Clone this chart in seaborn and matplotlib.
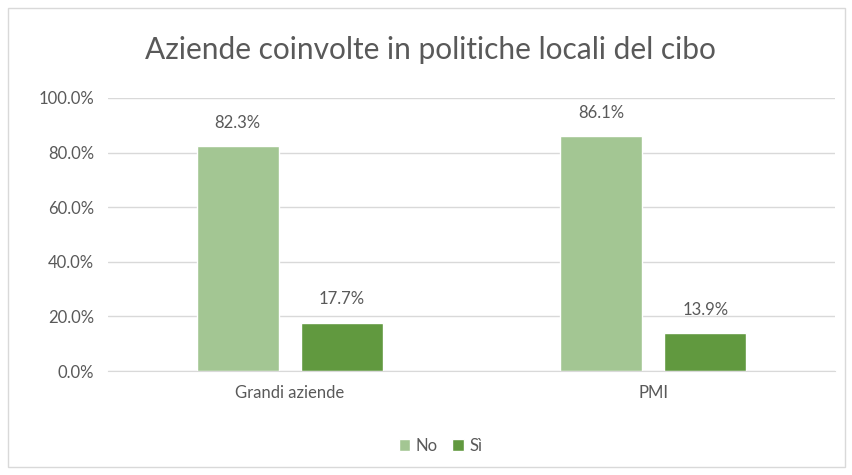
import pandas as pd
import seaborn as sns
import matplotlib.pyplot as plt
from matplotlib.patches import Rectangle
from matplotlib.ticker import PercentFormatter

categories = ['Grandi aziende', 'PMI']
risposte = ['No', 'Sì']
valori_no = [0.823, 0.861]
valori_si = [0.177, 0.139]

df = pd.DataFrame({
    'categoria': categories * 2,
    'risposta': ['No'] * 2 + ['Sì'] * 2,
    'valore': valori_no + valori_si,
})

sns.set_style('white')
plt.rcParams['font.family'] = ['Lato', 'DejaVu Sans']

fig = plt.figure(figsize=(8.53, 4.75), dpi=100)
ax = fig.add_axes([0.1266, 0.2189, 0.8524, 0.5748])

colori = {'No': '#A3C693', 'Sì': '#61993F'}
sns.barplot(data=df, x='categoria', y='valore', hue='risposta',
            hue_order=risposte, palette=colori, saturation=1,
            width=0.572, gap=0.21, ax=ax, legend=True)

ax.set_ylim(0, 1)
ax.set_yticks([0, 0.2, 0.4, 0.6, 0.8, 1.0])
ax.yaxis.set_major_formatter(PercentFormatter(1.0, decimals=1))
ax.grid(axis='y', color='#D9D9D9', linewidth=1)
ax.set_axisbelow(True)
for s in ['top', 'right', 'left']:
    ax.spines[s].set_visible(False)
ax.spines['bottom'].set_color('#D9D9D9')
ax.tick_params(axis='both', length=0, labelsize=12, colors='#595959', pad=10)
ax.set_xlabel('')
ax.set_ylabel('')

for cont in ax.containers:
    ax.bar_label(cont, labels=[f'{v * 100:.1f}%' for v in cont.datavalues],
                 padding=11, fontsize=12, color='#595959')

ax.legend(loc='upper center', bbox_to_anchor=(0.457, -0.19), ncol=2, frameon=False,
          fontsize=12, labelcolor='#595959', handlelength=0.7, handleheight=0.7,
          handletextpad=0.3, columnspacing=0.9)

fig.text(0.505, 0.895, 'Aziende coinvolte in politiche locali del cibo',
         ha='center', va='center', fontsize=21.5, color='#595959')

fig.patches.append(Rectangle((0.009, 0.017), 0.982, 0.966, transform=fig.transFigure,
                             fill=False, edgecolor='#D9D9D9', linewidth=1))

fig.savefig('out.png', dpi=100)
